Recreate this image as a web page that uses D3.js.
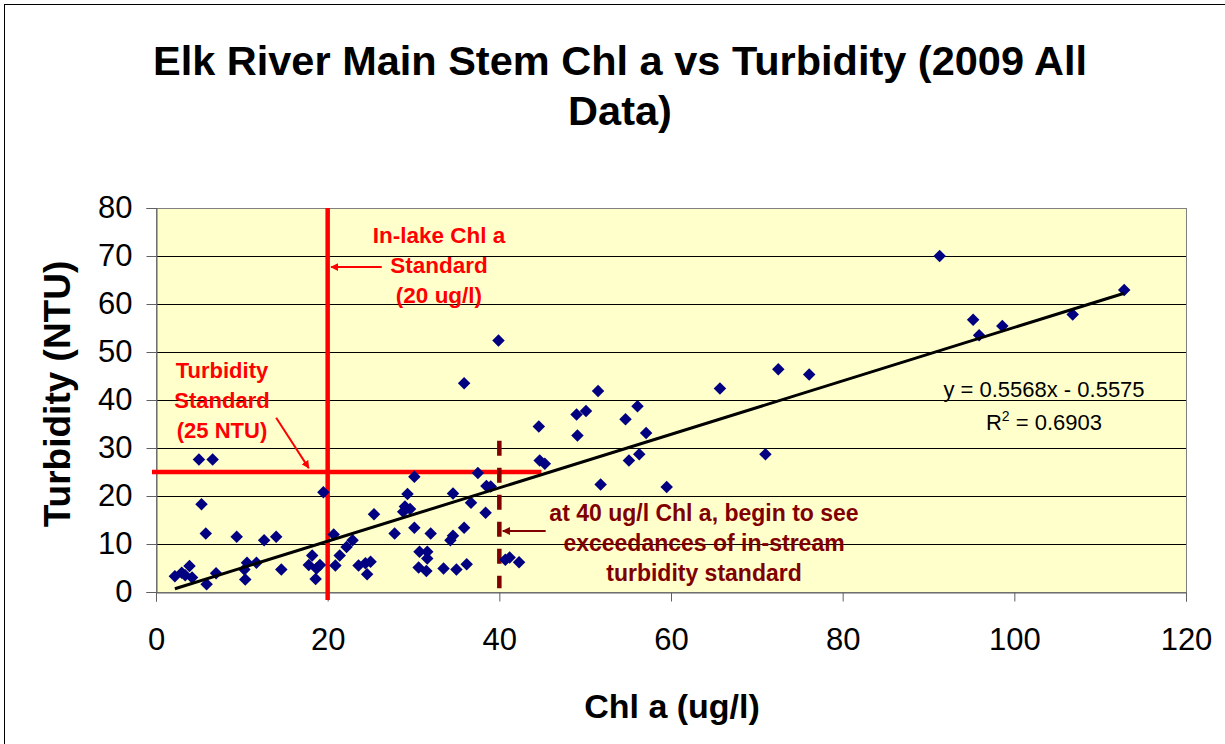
<!DOCTYPE html>
<html>
<head>
<meta charset="utf-8">
<script src="https://cdn.jsdelivr.net/npm/d3@7"></script>
<style>
  body { margin: 0; background: #fff; }
  svg { display: block; font-family: "Liberation Sans", Arial, sans-serif; }
</style>
</head>
<body>
<svg id="chart" width="1225" height="744"></svg>
<script>
// Chlorophyll a (ug/l) and turbidity (NTU), Elk River main stem samples, 2009
const chl = [
  2.2, 3.0, 3.4, 3.9, 4.2, 5.0, 6.6, 5.3, 5.8, 5.9,
  7.0, 9.4, 10.3, 10.4, 10.6, 11.7, 12.6, 14.0, 14.6, 17.8,
  18.2, 18.6, 18.7, 19.1, 19.5, 20.7, 20.9, 21.4, 22.2, 22.9,
  23.6, 24.4, 25.0, 24.6, 25.4, 27.8, 28.8, 29.0, 29.6, 29.3,
  30.1, 30.1, 30.7, 31.6, 31.6, 30.6, 31.5, 32.0, 33.5, 34.3,
  34.6, 34.6, 35.0, 35.9, 35.9, 36.2, 36.7, 37.5, 38.4, 38.5,
  39.0, 39.9, 40.7, 41.2, 42.3, 44.6, 44.7, 45.3, 49.0, 49.1,
  50.1, 51.5, 51.8, 54.7, 55.1, 56.1, 56.3, 57.1, 59.5, 65.7,
  71.0, 72.5, 76.1, 91.3, 95.2, 95.9, 98.6, 106.8, 112.8
];
const turbidity = [
  3.3, 4.0, 3.5, 5.4, 3.0, 27.6, 27.6, 18.3, 12.2, 1.6,
  3.9, 11.5, 4.7, 2.6, 6.1, 6.1, 10.8, 11.5, 4.7, 5.6,
  7.6, 2.7, 4.9, 5.6, 20.8, 12.0, 5.5, 7.6, 9.4, 10.8,
  5.5, 6.0, 6.3, 3.7, 16.2, 12.2, 16.7, 17.8, 17.3, 20.4,
  24.0, 13.4, 8.4, 8.4, 7.0, 5.1, 4.4, 12.2, 4.9, 10.8,
  11.7, 20.5, 4.7, 13.4, 43.5, 5.8, 18.6, 24.8, 16.5, 22.1,
  22.0, 52.4, 6.7, 7.2, 6.2, 34.5, 27.4, 26.7, 37.0, 32.6,
  37.7, 41.9, 22.4, 36.0, 27.4, 38.7, 28.7, 33.1, 21.9, 42.4,
  28.7, 46.4, 45.3, 70.0, 56.7, 53.5, 55.4, 57.8, 62.9
];

const xTicks = [0, 20, 40, 60, 80, 100, 120];
const yTicks = [0, 10, 20, 30, 40, 50, 60, 70, 80];

// Linear trend fitted to the samples
const slope = 0.5568;
const intercept = -0.5575;
const rSquared = 0.6903;

// Reference standards
const lakeChlStandard = 20;      // ug/l
const turbidityStandard = 25;    // NTU
const exceedanceChl = 40;        // ug/l

const svg = d3.select("#chart");
const W = 1225, H = 744;
const plot = { left: 156, right: 1186, top: 208, bottom: 592 };

// Chart frame
svg.append("rect").attr("x", 0).attr("y", 0).attr("width", W).attr("height", H).attr("fill", "#fff");
svg.append("rect")
  .attr("x", 4.5).attr("y", 4.5).attr("width", W + 10).attr("height", H + 10)
  .attr("fill", "none").attr("stroke", "#000").attr("stroke-width", 1);

const x = d3.scaleLinear().domain([0, 120]).range([plot.left, plot.right]);
const y = d3.scaleLinear().domain([0, 80]).range([plot.bottom, plot.top]);

// Plot area
svg.append("rect")
  .attr("x", plot.left).attr("y", plot.top)
  .attr("width", plot.right - plot.left).attr("height", plot.bottom - plot.top)
  .attr("fill", "#FFFFCC");

// Horizontal gridlines
svg.append("g").selectAll("line")
  .data(yTicks.filter(t => t > 0 && t < 80))
  .join("line")
  .attr("x1", plot.left).attr("x2", plot.right)
  .attr("y1", d => Math.round(y(d)) + 0.5).attr("y2", d => Math.round(y(d)) + 0.5)
  .attr("stroke", "#000").attr("stroke-width", 1);

// Plot border
svg.append("rect")
  .attr("x", plot.left + 0.5).attr("y", plot.top + 0.5)
  .attr("width", plot.right - plot.left).attr("height", plot.bottom - plot.top)
  .attr("fill", "none").attr("stroke", "#808080").attr("stroke-width", 1);

// Axes
const xAxis = svg.append("g")
  .attr("transform", `translate(0,${plot.bottom + 0.5})`)
  .call(d3.axisBottom(x).tickValues(xTicks).tickSize(9).tickPadding(26).tickFormat(d3.format("d")));
const yAxis = svg.append("g")
  .attr("transform", `translate(${plot.left + 0.5},0)`)
  .call(d3.axisLeft(y).tickValues(yTicks).tickSize(10).tickPadding(14).tickFormat(d3.format("d")));
[xAxis, yAxis].forEach(g => {
  g.select(".domain").attr("stroke", "#606060");
  g.selectAll(".tick line").attr("stroke", "#606060");
  g.selectAll(".tick text").attr("fill", "#000")
    .style("font-family", '"Liberation Sans", Arial, sans-serif')
    .style("font-size", "31px");
});

// Arrow markers
const defs = svg.append("defs");
function arrowMarker(id, color) {
  defs.append("marker")
    .attr("id", id).attr("viewBox", "0 0 10 10")
    .attr("refX", 9).attr("refY", 5)
    .attr("markerWidth", 4).attr("markerHeight", 4)
    .attr("markerUnits", "strokeWidth")
    .attr("orient", "auto")
    .append("path").attr("d", "M0,0 L10,5 L0,10 Z").attr("fill", color);
}
arrowMarker("arrowRed", "#FF0000");
arrowMarker("arrowDark", "#800000");

// Standards lines
svg.append("line")
  .attr("x1", x(lakeChlStandard)).attr("x2", x(lakeChlStandard))
  .attr("y1", plot.top).attr("y2", plot.bottom + 8)
  .attr("stroke", "#FF0000").attr("stroke-width", 4.5);
svg.append("line")
  .attr("x1", plot.left - 4).attr("x2", x(44.9))
  .attr("y1", y(turbidityStandard)).attr("y2", y(turbidityStandard))
  .attr("stroke", "#FF0000").attr("stroke-width", 4.5);
svg.append("line")
  .attr("x1", x(exceedanceChl)).attr("x2", x(exceedanceChl))
  .attr("y1", y(31.5)).attr("y2", y(0.8))
  .attr("stroke", "#800000").attr("stroke-width", 4.5)
  .attr("stroke-dasharray", "15,12");

// Scatter points (diamonds)
const diamond = d3.symbol(d3.symbolSquare, 78);
svg.append("g").selectAll("path")
  .data(chl.map((c, i) => [c, turbidity[i]]))
  .join("path")
  .attr("d", diamond)
  .attr("transform", d => `translate(${x(d[0])},${y(d[1])}) rotate(45)`)
  .attr("fill", "#000080");

// Trend line over the sampled range
const [cMin, cMax] = d3.extent(chl);
svg.append("path")
  .datum([cMin, cMax])
  .attr("d", d3.line().x(c => x(c)).y(c => y(slope * c + intercept)))
  .attr("stroke", "#000").attr("stroke-width", 3).attr("fill", "none");

// Trend equation
const eq = svg.append("text")
  .attr("text-anchor", "middle").attr("font-size", 22).attr("fill", "#000");
eq.append("tspan").attr("x", 1044).attr("y", 397)
  .text(`y = ${slope}x - ${Math.abs(intercept)}`);
const r2 = svg.append("text")
  .attr("text-anchor", "middle").attr("font-size", 22).attr("fill", "#000")
  .attr("x", 1044).attr("y", 430);
r2.append("tspan").text("R");
r2.append("tspan").attr("font-size", 14).attr("dy", -9).text("2");
r2.append("tspan").attr("dy", 9).text(` = ${rSquared}`);

// Annotations
function label(lines, cx, y0, color, size) {
  const t = svg.append("text")
    .attr("text-anchor", "middle").attr("font-size", size).attr("font-weight", "bold")
    .attr("fill", color);
  lines.forEach((s, i) => t.append("tspan").attr("x", cx).attr("y", y0 + i * 30).text(s));
}
label(["In-lake Chl a", "Standard", "(20 ug/l)"], 439, 243, "#FF0000", 22.5);
label(["Turbidity", "Standard", "(25 NTU)"], 222, 378, "#FF0000", 22);
label(["at 40 ug/l Chl a, begin to see", "exceedances of in-stream", "turbidity standard"], 704, 521, "#800000", 23);

svg.append("line")
  .attr("x1", x(26.3)).attr("y1", y(67.7)).attr("x2", x(20.4)).attr("y2", y(67.7))
  .attr("stroke", "#FF0000").attr("stroke-width", 2).attr("marker-end", "url(#arrowRed)");
svg.append("line")
  .attr("x1", x(14.0)).attr("y1", y(36.3)).attr("x2", x(17.8)).attr("y2", y(25.8))
  .attr("stroke", "#FF0000").attr("stroke-width", 2).attr("marker-end", "url(#arrowRed)");
svg.append("line")
  .attr("x1", x(45.4)).attr("y1", y(12.7)).attr("x2", x(40.4)).attr("y2", y(12.7))
  .attr("stroke", "#800000").attr("stroke-width", 2).attr("marker-end", "url(#arrowDark)");

// Titles
const title = svg.append("text")
  .attr("text-anchor", "middle").attr("font-size", 41.5).attr("font-weight", "bold").attr("fill", "#000");
title.append("tspan").attr("x", 620).attr("y", 75).text("Elk River Main Stem Chl a vs Turbidity (2009 All");
title.append("tspan").attr("x", 620).attr("y", 125).text("Data)");

svg.append("text")
  .attr("text-anchor", "middle").attr("font-size", 34).attr("font-weight", "bold")
  .attr("x", 672).attr("y", 718).text("Chl a (ug/l)");
svg.append("text")
  .attr("text-anchor", "middle").attr("font-size", 37).attr("font-weight", "bold")
  .attr("transform", "translate(70,394) rotate(-90)").text("Turbidity (NTU)");
</script>
</body>
</html>
